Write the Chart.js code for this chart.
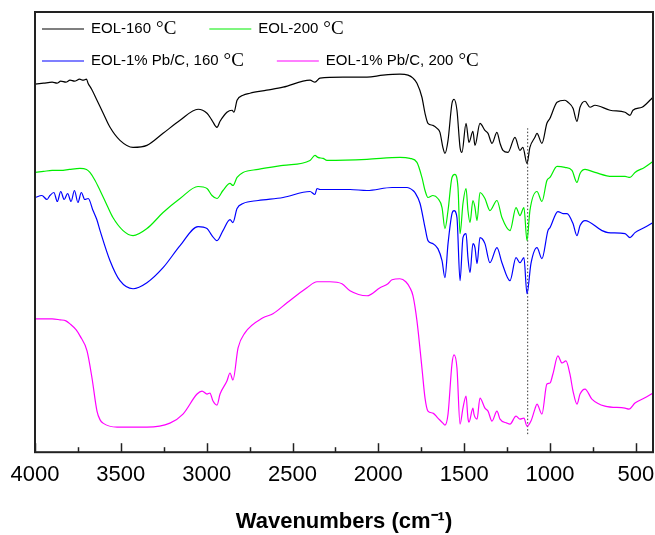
<!DOCTYPE html>
<html>
<head>
<meta charset="utf-8">
<script src="https://cdn.jsdelivr.net/npm/chart.js@4.4.1/dist/chart.umd.min.js"></script>
<style>
    html, body { margin: 0; padding: 0; background: #fff; overflow: hidden; }
    canvas { display: block; }
</style>
</head>
<body>
<canvas id="ftirChart" width="655" height="535"></canvas>
<script>
// FTIR spectra, [wavenumber, transmittance (a.u.)]
const eol160 = [
    [4000, 367], [3950, 368], [3900, 369], [3872, 368], [3850, 370], [3820, 369], [3796, 371], [3770, 370],
    [3740, 372], [3720, 371], [3700, 372], [3691, 368], [3670, 362], [3639, 351], [3600, 337], [3563, 324],
    [3505, 311], [3429, 304], [3348, 306], [3254, 318], [3155, 331], [3050, 342], [2998, 338], [2969, 331],
    [2940, 324], [2922, 330], [2882, 339], [2852, 341], [2841, 339], [2823, 351], [2788, 356], [2748, 358],
    [2650, 361], [2555, 364], [2398, 371], [2369, 369], [2340, 373], [2206, 374], [2066, 374], [1973, 376],
    [1874, 377], [1827, 376], [1798, 373], [1775, 368], [1746, 354], [1728, 338], [1711, 328], [1682, 326],
    [1658, 323], [1641, 319], [1624, 304], [1612, 298], [1594, 311], [1571, 348], [1559, 352], [1542, 341],
    [1524, 304], [1513, 299], [1489, 328], [1472, 309], [1449, 320], [1437, 306], [1408, 328], [1379, 321],
    [1361, 318], [1338, 308], [1309, 319], [1291, 308], [1274, 301], [1245, 299], [1204, 314], [1175, 301],
    [1158, 304], [1134, 288], [1117, 304], [1088, 314], [1076, 318], [1047, 308], [1018, 328], [1000, 333],
    [959, 349], [913, 351], [895, 349], [866, 343], [843, 330], [825, 344], [796, 350], [767, 344],
    [738, 346], [650, 341], [563, 339], [534, 336], [517, 341], [464, 344], [435, 348], [418, 351], [400, 354]
];

const eol200 = [
    [4000, 279], [3950, 280], [3900, 281], [3850, 281], [3800, 282], [3738, 283], [3700, 282], [3680, 279],
    [3650, 271], [3621, 261], [3580, 246], [3546, 234], [3487, 221], [3429, 216], [3348, 223], [3254, 239],
    [3155, 253], [3050, 265], [2998, 263], [2969, 256], [2940, 253], [2905, 261], [2864, 268], [2847, 266],
    [2823, 274], [2788, 279], [2700, 282], [2555, 286], [2398, 291], [2369, 296], [2352, 294], [2322, 293],
    [2299, 291], [2066, 292], [1874, 294], [1816, 293], [1775, 289], [1746, 274], [1728, 261], [1711, 254],
    [1682, 256], [1653, 253], [1629, 244], [1612, 223], [1594, 241], [1571, 274], [1554, 277], [1536, 264],
    [1524, 218], [1507, 248], [1489, 263], [1478, 241], [1466, 229], [1449, 251], [1437, 244], [1425, 231],
    [1408, 259], [1379, 253], [1350, 241], [1309, 251], [1280, 234], [1233, 221], [1198, 244], [1175, 236],
    [1152, 244], [1134, 211], [1117, 241], [1076, 260], [1047, 250], [1018, 271], [1000, 274], [959, 285],
    [913, 284], [872, 281], [843, 269], [825, 278], [796, 282], [738, 279], [639, 275], [563, 275],
    [534, 274], [505, 279], [450, 284], [400, 290]
];

const pb160 = [
    [4000, 254], [3960, 256], [3930, 252], [3913, 256], [3890, 259], [3870, 250], [3850, 260], [3830, 252],
    [3810, 258], [3790, 250], [3770, 261], [3750, 249], [3730, 259], [3710, 252], [3690, 253], [3662, 241],
    [3640, 232], [3621, 221], [3563, 191], [3505, 171], [3429, 163], [3348, 169], [3254, 184], [3155, 206],
    [3050, 225], [2998, 223], [2969, 216], [2940, 211], [2905, 221], [2864, 232], [2847, 229], [2823, 243],
    [2788, 248], [2700, 251], [2555, 254], [2398, 260], [2369, 257], [2357, 263], [2340, 262], [2165, 262],
    [2066, 261], [1920, 264], [1833, 264], [1798, 261], [1787, 259], [1757, 248], [1728, 224], [1711, 211],
    [1682, 208], [1653, 203], [1629, 191], [1612, 174], [1594, 208], [1571, 238], [1559, 241], [1542, 234],
    [1524, 171], [1507, 214], [1489, 218], [1478, 194], [1466, 179], [1449, 208], [1437, 204], [1425, 188],
    [1408, 214], [1379, 208], [1350, 189], [1309, 204], [1280, 189], [1233, 171], [1198, 194], [1175, 189],
    [1152, 194], [1134, 158], [1111, 188], [1076, 204], [1047, 193], [1012, 221], [1000, 224], [954, 240],
    [924, 238], [901, 238], [866, 228], [843, 216], [825, 226], [796, 231], [697, 221], [662, 219],
    [563, 218], [534, 214], [505, 219], [450, 224], [400, 229]
];

const pb200 = [
    [4000, 133], [3900, 133], [3854, 132], [3820, 131], [3796, 128], [3760, 122], [3738, 116], [3697, 101],
    [3668, 74], [3639, 41], [3620, 32], [3604, 29], [3522, 25], [3348, 25], [3214, 29], [3138, 38],
    [3056, 58], [3027, 61], [2998, 58], [2981, 59], [2963, 51], [2940, 47], [2922, 58], [2882, 71],
    [2864, 79], [2847, 72], [2817, 104], [2777, 119], [2672, 134], [2614, 138], [2532, 149], [2416, 164],
    [2357, 170], [2282, 170], [2212, 168], [2165, 161], [2066, 156], [1990, 164], [1944, 168], [1920, 172],
    [1874, 173], [1840, 170], [1816, 164], [1798, 156], [1775, 131], [1746, 84], [1728, 54], [1711, 41],
    [1682, 39], [1653, 34], [1624, 29], [1612, 27], [1594, 38], [1571, 88], [1559, 97], [1542, 84],
    [1524, 28], [1507, 44], [1489, 56], [1478, 34], [1472, 30], [1449, 44], [1443, 38], [1425, 33],
    [1408, 54], [1379, 44], [1361, 41], [1338, 31], [1309, 41], [1291, 33], [1251, 29], [1233, 28],
    [1198, 36], [1175, 33], [1152, 34], [1134, 26], [1111, 31], [1088, 43], [1076, 48], [1047, 38],
    [1018, 68], [1000, 69], [983, 78], [954, 96], [930, 89], [907, 91], [884, 78], [866, 61],
    [843, 48], [825, 58], [796, 63], [756, 53], [680, 46], [563, 44], [540, 43], [505, 49],
    [450, 54], [400, 59]
];

// dotted guide line at the C-O-C band
const markerLine = [[1130, 18], [1130, 323]];

const seriesNames = ['EOL-160', 'EOL-200', 'EOL-1% Pb/C, 160', 'EOL-1% Pb/C, 200'];
const seriesColors = ['#000000', '#00ee00', '#0000ff', '#ff00ff'];
const xTicks = [4000, 3500, 3000, 2500, 2000, 1500, 1000, 500];
const xMinorTicks = [3750, 3250, 2750, 2250, 1750, 1250, 750];

function toPoints(arr) {
    return arr.map(p => ({ x: p[0], y: p[1] }));
}

// frame, inward ticks and the legend in the plot area
const framePlugin = {
    id: 'frame',
    afterDraw(chart) {
        const ctx = chart.ctx;
        const a = chart.chartArea;
        const x = chart.scales.x;
        ctx.save();
        ctx.strokeStyle = '#222';
        ctx.lineWidth = 2;
        ctx.strokeRect(a.left, a.top, a.right - a.left, a.bottom - a.top);

        ctx.lineWidth = 1.5;
        xTicks.forEach(v => {
            const px = Math.round(x.getPixelForValue(v)) + 0.5;
            ctx.beginPath();
            ctx.moveTo(px, a.bottom);
            ctx.lineTo(px, a.bottom - 9);
            ctx.stroke();
        });
        xMinorTicks.forEach(v => {
            const px = Math.round(x.getPixelForValue(v)) + 0.5;
            ctx.beginPath();
            ctx.moveTo(px, a.bottom);
            ctx.lineTo(px, a.bottom - 5);
            ctx.stroke();
        });

        // legend: two rows, two entries each
        const rows = [[0, 1], [2, 3]];
        const rowY = [a.top + 17, a.top + 49];
        ctx.textBaseline = 'middle';
        rows.forEach((row, r) => {
            let cx = a.left + 7;
            const y = rowY[r];
            row.forEach(i => {
                ctx.strokeStyle = seriesColors[i];
                ctx.lineWidth = 1.2;
                ctx.beginPath();
                ctx.moveTo(cx, y);
                ctx.lineTo(cx + 42, y);
                ctx.stroke();
                cx += 49;
                ctx.fillStyle = '#000';
                ctx.font = '15px "Liberation Sans", Arial, sans-serif';
                ctx.fillText(seriesNames[i], cx, y);
                cx += ctx.measureText(seriesNames[i]).width + 5;
                ctx.font = '19px "Liberation Serif", "Times New Roman", serif';
                ctx.fillText('°C', cx, y);
                cx += ctx.measureText('°C').width + 33;
            });
        });
        ctx.restore();
    }
};

document.addEventListener('DOMContentLoaded', function () {
    const datasets = [eol160, eol200, pb160, pb200].map((s, i) => ({
        label: seriesNames[i] + ' °C',
        data: toPoints(s),
        borderColor: seriesColors[i],
        borderWidth: 1.2,
        pointRadius: 0,
        fill: false,
        cubicInterpolationMode: 'monotone'
    }));
    datasets.push({
        label: 'marker',
        data: toPoints(markerLine),
        borderColor: '#333',
        borderWidth: 1,
        borderDash: [1.5, 2],
        pointRadius: 0,
        fill: false
    });

    new Chart(document.getElementById('ftirChart'), {
        type: 'line',
        data: { datasets: datasets },
        plugins: [framePlugin],
        options: {
            responsive: false,
            animation: false,
            devicePixelRatio: 1,
            layout: { padding: { left: 35, right: 2, top: 12, bottom: 0 } },
            plugins: {
                legend: { display: false },
                tooltip: { enabled: false }
            },
            scales: {
                x: {
                    type: 'linear',
                    reverse: true,
                    min: 400,
                    max: 4000,
                    afterBuildTicks: function (scale) {
                        scale.ticks = xTicks.map(v => ({ value: v }));
                    },
                    afterFit: function (scale) {
                        scale.paddingLeft = 0;
                        scale.paddingRight = 0;
                    },
                    grid: { display: false, drawTicks: false },
                    border: { display: false },
                    ticks: {
                        color: '#000',
                        padding: 10,
                        maxRotation: 0,
                        font: { family: '"Liberation Sans", Arial, sans-serif', size: 22 },
                        callback: function (value) {
                            return String(value);
                        }
                    },
                    title: {
                        display: true,
                        text: 'Wavenumbers (cm⁻¹)',
                        color: '#000',
                        padding: { top: 10, bottom: 0 },
                        font: { family: '"Liberation Sans", Arial, sans-serif', size: 22, weight: 'bold' }
                    }
                },
                y: {
                    display: false,
                    min: 0,
                    max: 439
                }
            }
        }
    });
});
</script>
</body>
</html>
